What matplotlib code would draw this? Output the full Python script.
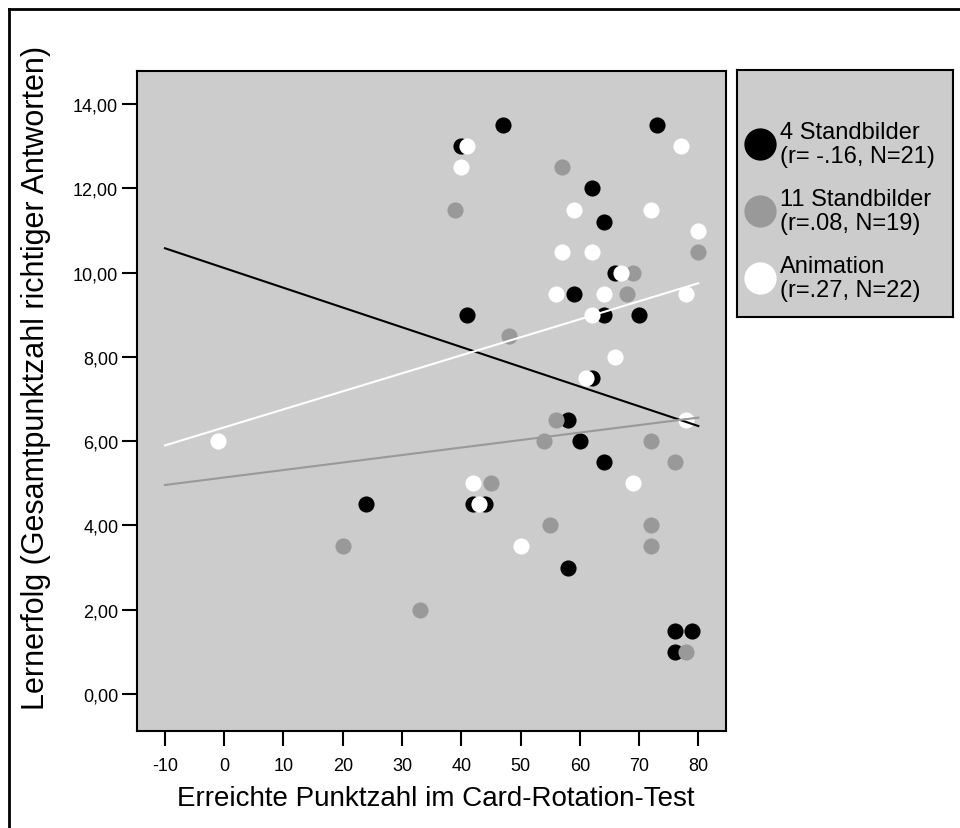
import matplotlib
matplotlib.use("Agg")
import matplotlib.pyplot as plt
from matplotlib.lines import Line2D

plt.rcParams['font.family'] = ['Liberation Sans', 'DejaVu Sans']

# groups shown in the legend
groups = ["4 Standbilder", "11 Standbilder", "Animation"]
group_stats = ["(r= -.16, N=21)", "(r=.08, N=19)", "(r=.27, N=22)"]
colors = ["#000000", "#999999", "#ffffff"]

# Card-Rotation score (x) and learning score (y) per group
x_4 = [47, 73, 40, 62, 64, 66, 59, 41, 64, 70, 62, 58, 60, 64, 42, 44, 58, 76, 79, 76, 24]
y_4 = [13.5, 13.5, 13, 12, 11.2, 10, 9.5, 9, 9, 9, 7.5, 6.5, 6, 5.5, 4.5, 4.5, 3, 1.5, 1.5, 1, 4.5]

x_11 = [57, 39, 80, 69, 68, 48, 56, 54, 72, 76, 45, 55, 72, 72, 78, 20, 33]
y_11 = [12.5, 11.5, 10.5, 10, 9.5, 8.5, 6.5, 6, 6, 5.5, 5, 4, 4, 3.5, 1, 3.5, 2]

x_anim = [41, 77, 40, 59, 72, 80, 57, 62, 67, 56, 64, 78, 62, 66, 61, 78, 42, 69, 43, 50, -1]
y_anim = [13, 13, 12.5, 11.5, 11.5, 11, 10.5, 10.5, 10, 9.5, 9.5, 9.5, 9, 8, 7.5, 6.5, 5, 5, 4.5, 3.5, 6]

# regression lines, read at x = -10 and x = 80
fit_x = [-10, 80]
fit_4 = [10.58, 6.36]
fit_11 = [4.96, 6.56]
fit_anim = [5.90, 9.75]

xticks = [-10, 0, 10, 20, 30, 40, 50, 60, 70, 80]
yticks = [0, 2, 4, 6, 8, 10, 12, 14]
ytick_labels = ["0,00", "2,00", "4,00", "6,00", "8,00", "10,00", "12,00", "14,00"]

W, H = 960, 829
BG = "#cccccc"

fig = plt.figure(figsize=(W / 100, H / 100), dpi=100)
ax = fig.add_axes([137 / W, 1 - 732 / H, (726 - 137) / W, (732 - 71.5) / H])
ax.set_facecolor(BG)

xs = [x_4, x_11, x_anim]
ys = [y_4, y_11, y_anim]
fits = [fit_4, fit_11, fit_anim]
for i in range(3):
    ax.scatter(xs[i], ys[i], s=135, color=colors[i], linewidths=0, zorder=2)
for i in range(3):
    ax.plot(fit_x, fits[i], color=colors[i], lw=1.5, zorder=3)

ax.set_xlim(-14.72, 84.67)
ax.set_ylim(-0.88, 14.8)
ax.set_xticks(xticks)
ax.set_xticklabels([str(t) for t in xticks])
ax.set_yticks(yticks)
ax.set_yticklabels(ytick_labels)
ax.tick_params(axis='both', length=10.5, width=1.5, labelsize=13, direction='out')
ax.tick_params(axis='x', pad=8)
ax.tick_params(axis='y', pad=3)
for sp in ax.spines.values():
    sp.set_linewidth(1.5)

ax.set_xlabel("Erreichte Punktzahl im Card-Rotation-Test", fontsize=20)
ax.xaxis.set_label_coords(0.507, -0.082)
ax.set_ylabel("Lernerfolg (Gesamtpunktzahl richtiger Antworten)", fontsize=22)
ax.yaxis.set_label_coords(-0.146, 0.536)

# legend box drawn as its own small axes
lax = fig.add_axes([737 / W, 1 - 318 / H, 216 / W, 247 / H])
lax.set_facecolor(BG)
lax.set_xlim(0, 216)
lax.set_ylim(247, 0)
lax.set_xticks([])
lax.set_yticks([])
for sp in lax.spines.values():
    sp.set_linewidth(1.5)
for i in range(3):
    yc = 74 + i * 67
    lax.scatter([23], [yc], s=540, color=colors[i], linewidths=0)
    lax.text(43, yc, groups[i] + "\n" + group_stats[i], fontsize=17,
             va='center', ha='left', linespacing=1.15)

# outer frame (left and top edges)
fig.add_artist(Line2D([9 / W, 9 / W], [0, 1 - 10 / H], color='black', lw=2))
fig.add_artist(Line2D([9 / W, 1], [1 - 10 / H, 1 - 10 / H], color='black', lw=2))

fig.savefig("out.png", dpi=100)
